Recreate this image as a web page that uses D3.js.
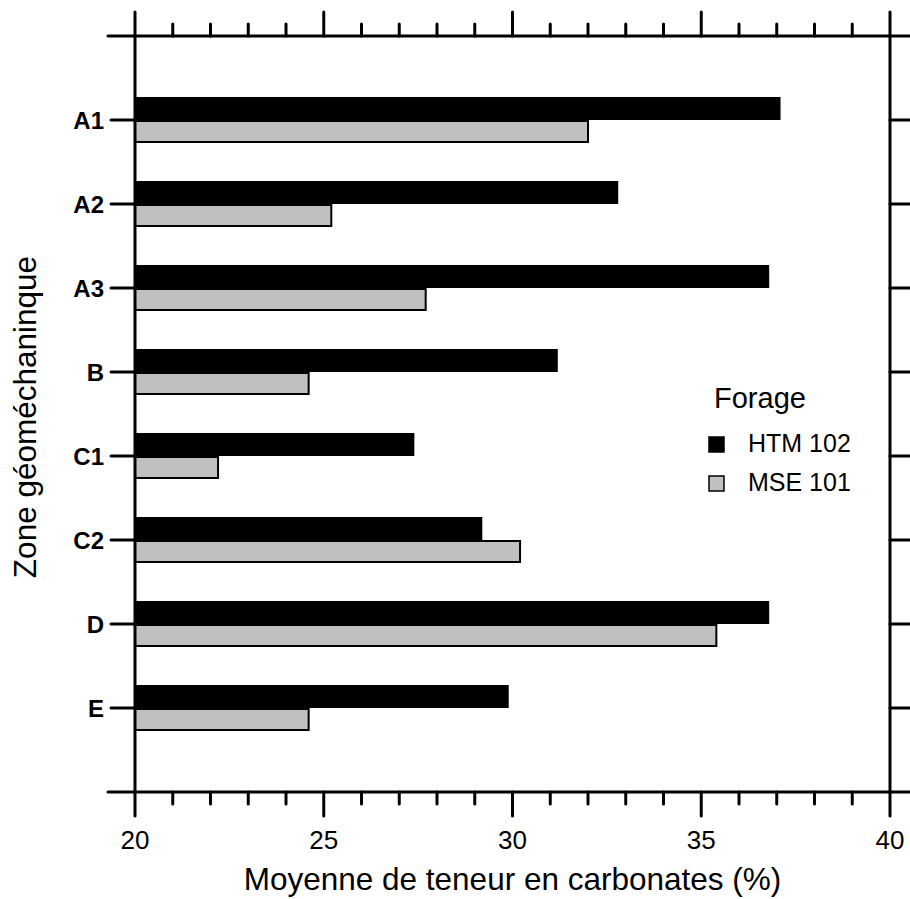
<!DOCTYPE html>
<html><head><meta charset="utf-8">
<script src="https://cdn.jsdelivr.net/npm/d3@7"></script>
<style>body{margin:0;background:#fff}svg{display:block}text{font-family:"Liberation Sans",Arial,sans-serif}</style>
</head><body>
<svg id="c" width="910" height="899"></svg>
<script>
const categories = ["A1","A2","A3","B","C1","C2","D","E"];
const htm102 = [37.1, 32.8, 36.8, 31.2, 27.4, 29.2, 36.8, 29.9];
const mse101 = [32.0, 25.2, 27.7, 24.6, 22.2, 30.2, 35.4, 24.6];
const seriesNames = ["HTM 102","MSE 101"];
const xTicks = [20,25,30,35,40];
const xTitle = "Moyenne de teneur en carbonates (%)";
const yTitle = "Zone géoméchaninque";
const legendTitle = "Forage";

const svg = d3.select("#c");
const x = d3.scaleLinear().domain([20,40]).range([135,890]);
const y = d3.scaleLinear().domain([0,9]).range([36,792]);
const yc = i => y(i+1);

// bars
const g = svg.append("g");
g.selectAll(".htm").data(htm102).join("rect")
  .attr("x", x(20)).attr("y",(d,i)=>yc(i)-23).attr("width",d=>x(d)-x(20)).attr("height",23)
  .attr("fill","#000");
g.selectAll(".mse").data(mse101).join("rect")
  .attr("x", x(20)).attr("y",(d,i)=>yc(i)+1).attr("width",d=>x(d)-x(20)).attr("height",21)
  .attr("fill","#c0c0c0").attr("stroke","#000").attr("stroke-width",2);

const ax = svg.append("g").attr("stroke","#000").attr("stroke-width",3).attr("stroke-linecap","round");
ax.append("line").attr("x1",108).attr("x2",910).attr("y1",y(0)).attr("y2",y(0));
ax.append("line").attr("x1",108).attr("x2",910).attr("y1",y(9)).attr("y2",y(9));
ax.append("line").attr("x1",x(20)).attr("x2",x(20)).attr("y1",y(0)-24).attr("y2",y(9)+24);
ax.append("line").attr("x1",x(40)).attr("x2",x(40)).attr("y1",y(0)-24).attr("y2",y(9)+24);
const minor = d3.range(21,40);
const major = xTicks;
ax.selectAll(".tmin").data(minor).join("line").attr("x1",d=>x(d)).attr("x2",d=>x(d))
  .attr("y1",y(0)).attr("y2",d=>major.includes(d)? y(0)-24 : y(0)-12);
ax.selectAll(".bmin").data(minor).join("line").attr("x1",d=>x(d)).attr("x2",d=>x(d))
  .attr("y1",y(9)).attr("y2",d=>major.includes(d)? y(9)+24 : y(9)+12);
ax.selectAll(".lt").data(categories).join("line").attr("x1",111).attr("x2",x(20))
  .attr("y1",(d,i)=>yc(i)).attr("y2",(d,i)=>yc(i));
ax.selectAll(".rt").data(categories).join("line").attr("x1",x(40)).attr("x2",910)
  .attr("y1",(d,i)=>yc(i)).attr("y2",(d,i)=>yc(i));

// labels
svg.selectAll(".cl").data(categories).join("text")
  .attr("x",104).attr("y",(d,i)=>yc(i)).attr("dy","0.36em").attr("text-anchor","end")
  .attr("font-size",24).attr("font-weight","bold").text(d=>d);
svg.selectAll(".xl").data(xTicks).join("text")
  .attr("x",d=>x(d)).attr("y",849).attr("text-anchor","middle").attr("font-size",26).text(d=>d);
svg.append("text").attr("x",(x(20)+x(40))/2).attr("y",890).attr("text-anchor","middle")
  .attr("font-size",31.5).text(xTitle);
svg.append("text").attr("transform","translate(36,417) rotate(-90)").attr("text-anchor","middle")
  .attr("font-size",31.5).text(yTitle);

// legend
svg.append("text").attr("x",714).attr("y",408).attr("font-size",29).text(legendTitle);
const cols = ["#000","#c0c0c0"];
seriesNames.forEach((s,i)=>{
  svg.append("rect").attr("x",709).attr("y",437+i*39).attr("width",15).attr("height",15)
    .attr("fill",cols[i]).attr("stroke","#000").attr("stroke-width",1.5);
  svg.append("text").attr("x",748).attr("y",452+i*39).attr("font-size",25).text(s);
});
</script>
</body></html>
